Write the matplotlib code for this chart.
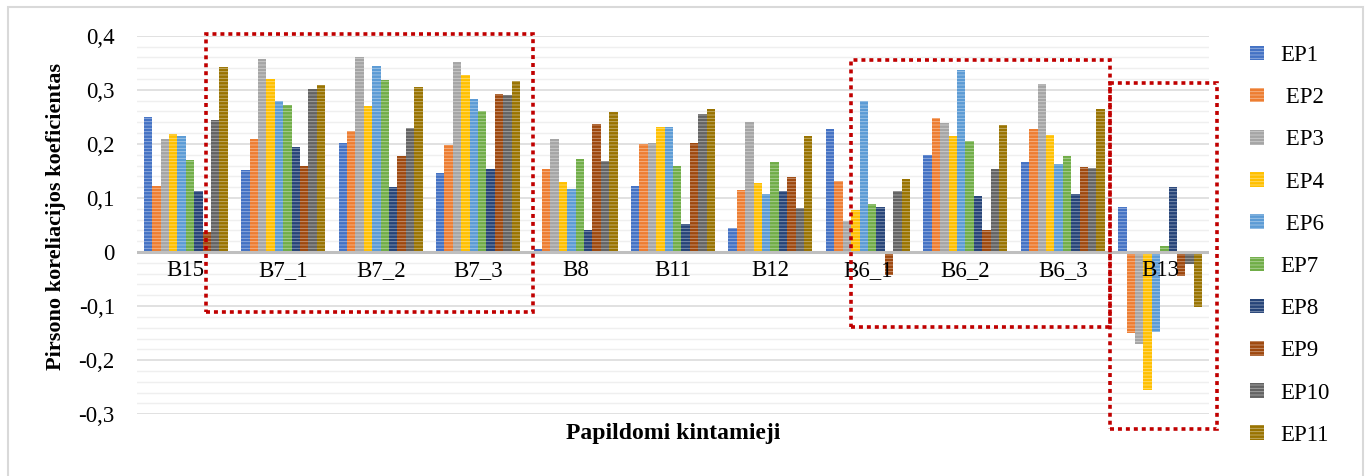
import matplotlib
matplotlib.use('Agg')
import matplotlib.pyplot as plt
from matplotlib.patches import Rectangle
from matplotlib.ticker import MultipleLocator, FuncFormatter
from matplotlib.colors import to_rgb
import numpy as np

plt.rcParams['font.family'] = ['Liberation Serif', 'DejaVu Serif']
plt.rcParams['hatch.linewidth'] = 0.6

categories = ['B15', 'B7_1', 'B7_2', 'B7_3', 'B8', 'B11', 'B12', 'B6_1', 'B6_2', 'B6_3', 'B13']
labels = ['EP1', ' EP2', ' EP3', ' EP4', ' EP6', 'EP7', 'EP8', 'EP9', 'EP10', 'EP11']

ep1 = [0.249, 0.151, 0.202, 0.146, 0.006, 0.123, 0.045, 0.227, 0.179, 0.167, 0.083]
ep2 = [0.123, 0.209, 0.223, 0.198, 0.154, 0.199, 0.114, 0.132, 0.247, 0.227, -0.150]
ep3 = [0.209, 0.356, 0.360, 0.351, 0.209, 0.201, 0.240, 0.057, 0.238, 0.310, -0.170]
ep4 = [0.218, 0.320, 0.270, 0.327, 0.130, 0.231, 0.128, 0.078, 0.214, 0.216, -0.255]
ep6 = [0.214, 0.279, 0.344, 0.283, 0.117, 0.231, 0.108, 0.279, 0.336, 0.162, -0.148]
ep7 = [0.170, 0.271, 0.318, 0.261, 0.172, 0.160, 0.166, 0.088, 0.206, 0.178, 0.012]
ep8 = [0.113, 0.194, 0.121, 0.154, 0.040, 0.051, 0.113, 0.083, 0.103, 0.107, 0.121]
ep9 = [0.037, 0.159, 0.178, 0.292, 0.236, 0.201, 0.139, -0.042, 0.040, 0.157, -0.044]
ep10 = [0.245, 0.302, 0.229, 0.290, 0.168, 0.255, 0.082, 0.113, 0.154, 0.155, -0.023]
ep11 = [0.343, 0.309, 0.306, 0.317, 0.259, 0.264, 0.215, 0.135, 0.234, 0.264, -0.101]

series = [ep1, ep2, ep3, ep4, ep6, ep7, ep8, ep9, ep10, ep11]
colors = ['#4472C4', '#ED7D31', '#A5A5A5', '#FFC000', '#5B9BD5',
          '#70AD47', '#264478', '#9E480E', '#636363', '#997300']

W, H = 1369, 476
fig = plt.figure(figsize=(W / 100, H / 100), dpi=100)

def fx(px):
    return px / W

def fy(py):
    return 1 - py / H

ax = fig.add_axes([fx(137), fy(414.3), fx(1209) - fx(137), fy(35.7) - fy(414.3)])

x = np.arange(len(categories))
bw = 0.0862
handles = []
for j, (vals, c) in enumerate(zip(series, colors)):
    light = tuple(0.55 * np.array(to_rgb(c)) + 0.45)
    b = ax.bar(x + (j - 4.5) * bw, vals, width=bw, color=c, edgecolor=light,
               linewidth=0, hatch='-----', zorder=2)
    handles.append(b)

ax.set_xlim(-0.5, len(categories) - 0.5)
ax.set_ylim(-0.3, 0.4)
ax.yaxis.set_major_locator(MultipleLocator(0.1))
ax.yaxis.set_minor_locator(MultipleLocator(0.02))
ax.yaxis.set_major_formatter(FuncFormatter(
    lambda v, p: '0' if abs(v) < 1e-9 else ('%.1f' % v).replace('.', ',')))
ax.grid(axis='y', which='minor', color='#EFEFEF', lw=1.0, zorder=0)
ax.grid(axis='y', which='major', color='#D9D9D9', lw=1.1, zorder=0)
ax.set_axisbelow(True)
ax.axhline(0, color='#BFBFBF', lw=2.2, zorder=3)
for s in ax.spines.values():
    s.set_visible(False)
ax.tick_params(axis='y', which='both', length=0, labelsize=16.5, pad=16)
ax.set_xticks([])

for i, cat in enumerate(categories):
    ax.annotate(cat, (i, 0), xytext=(0, -13.5), textcoords='offset points',
                ha='center', va='center', fontsize=16.5, zorder=5)

fig.text(fx(56), fy(217), 'Pirsono koreliacijos koeficientas', rotation=90,
         ha='center', va='center', fontsize=16, fontweight='bold')
fig.text(fx(673), fy(433), 'Papildomi kintamieji', ha='center', va='center',
         fontsize=17, fontweight='bold')

ax.legend(handles, labels, loc='upper left', bbox_to_anchor=(fx(1250), fy(45)),
          bbox_transform=fig.transFigure, frameon=False, fontsize=16.5,
          handlelength=0.6, handleheight=0.6, handletextpad=0.72,
          labelspacing=0.925, borderpad=0, borderaxespad=0)

# outer chart border
fig.patches.append(Rectangle((fx(8), fy(490)), fx(1363) - fx(8), fy(7) - fy(490),
                             transform=fig.transFigure, fill=False,
                             edgecolor='#D9D9D9', lw=1.5))

# dotted highlight boxes
for x0, y0, x1, y1 in [(206, 34, 533, 312), (851, 60, 1110, 327), (1110, 83, 1217, 429)]:
    fig.patches.append(Rectangle((fx(x0), fy(y1)), fx(x1) - fx(x0), fy(y0) - fy(y1),
                                 transform=fig.transFigure, fill=False,
                                 edgecolor='#C00000', lw=2.6,
                                 linestyle=(0, (1.1, 1.1)), zorder=10))

fig.savefig('out.png', dpi=100)
